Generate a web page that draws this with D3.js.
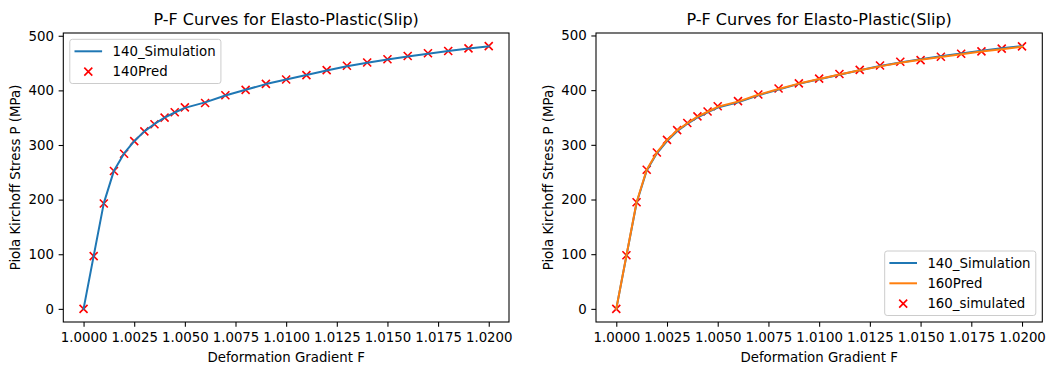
<!DOCTYPE html>
<html>
<head>
<meta charset="utf-8">
<script src="https://cdn.jsdelivr.net/npm/d3@7"></script>
<style>
  html, body { margin: 0; padding: 0; background: #fff; }
  svg { display: block; font-family: "DejaVu Sans", sans-serif; }
</style>
</head>
<body>
<svg id="chart" width="1048" height="367"></svg>
<script>
// Deformation gradient samples
const F = [1.0000, 1.0005, 1.0010, 1.0015, 1.0020, 1.0025, 1.0030, 1.0035, 1.0040, 1.0045,
           1.0050, 1.0060, 1.0070, 1.0080, 1.0090, 1.0100, 1.0110, 1.0120, 1.0130, 1.0140,
           1.0150, 1.0160, 1.0170, 1.0180, 1.0190, 1.0200];

// Piola Kirchhoff stress (MPa)
const sim140  = [0, 97, 193.5, 253, 284.5, 307, 325, 338.5, 350, 359.5,
                 368, 378, 390.5, 401, 411.5, 420, 428, 436.5, 444, 450.5,
                 456.5, 462, 467, 472, 476.5, 480.5];
const pred140 = [0, 96.5, 193, 252.5, 284, 307, 325, 338, 350, 360,
                 369, 377, 391, 401, 412, 420, 428, 437, 445, 451,
                 457, 463, 468, 472, 477, 481];
const pred160 = [0, 97.5, 195, 254.5, 286, 308.5, 326.5, 339.5, 351.5, 360.5,
                 369.5, 379, 391.5, 402, 412, 420.5, 428.5, 436.5, 443.5, 450,
                 455.5, 460.5, 465.5, 470.5, 475, 479.5];
const sim160  = [0, 98, 195, 254.5, 286, 309, 327, 340, 352, 361,
                 370.5, 380, 392, 403, 412.5, 421, 429.5, 437, 445, 452,
                 455, 461, 466.5, 471, 476, 480];

const xTicks = [1.0000, 1.0025, 1.0050, 1.0075, 1.0100, 1.0125, 1.0150, 1.0175, 1.0200];
const yTicks = [0, 100, 200, 300, 400, 500];

const titleText = "P-F Curves for Elasto-Plastic(Slip)";
const xLabel = "Deformation Gradient F";
const yLabel = "Piola Kirchoff Stress P (MPa)";

const BLUE = "#1f77b4", ORANGE = "#ff7f0e", RED = "#ff0000";

const panels = [
  {
    box: { left: 63.3, top: 33, right: 509, bottom: 322 },
    lines: [{ name: "140_Simulation", values: sim140, color: BLUE }],
    scatters: [{ name: "140Pred", values: pred140, color: RED }],
    legend: "upper left"
  },
  {
    box: { left: 596, top: 33, right: 1042.3, bottom: 322 },
    lines: [{ name: "140_Simulation", values: sim140, color: BLUE },
            { name: "160Pred", values: pred160, color: ORANGE }],
    scatters: [{ name: "160_simulated", values: sim160, color: RED }],
    legend: "lower right"
  }
];

const svg = d3.select("#chart");
const FS = 13.33;         // tick / label / legend font size (px)
const TITLE_FS = 16;
const TICK_LEN = 4.67;
const TICK_PAD = 4.67;
const MK = 4;             // half-size of x marker

function xMarker(g, cx, cy, color) {
  g.append("path")
    .attr("d", `M${cx - MK},${cy - MK}L${cx + MK},${cy + MK}M${cx - MK},${cy + MK}L${cx + MK},${cy - MK}`)
    .attr("stroke", color).attr("stroke-width", 1.6).attr("fill", "none");
}

function padded(lo, hi) {
  const m = (hi - lo) * 0.05;
  return [lo - m, hi + m];
}

panels.forEach(p => {
  const b = p.box;
  const allY = p.lines.concat(p.scatters).flatMap(s => s.values);
  const x = d3.scaleLinear().domain(padded(d3.min(F), d3.max(F))).range([b.left, b.right]);
  const y = d3.scaleLinear().domain(padded(d3.min(allY), d3.max(allY))).range([b.bottom, b.top]);

  const g = svg.append("g");

  // clip area for data marks
  const clipId = "clip" + Math.round(b.left);
  svg.append("clipPath").attr("id", clipId)
    .append("rect").attr("x", b.left).attr("y", b.top)
    .attr("width", b.right - b.left).attr("height", b.bottom - b.top);

  const plot = g.append("g").attr("clip-path", `url(#${clipId})`);

  // scatter markers sit beneath the lines
  p.scatters.forEach(s => {
    const sg = plot.append("g");
    F.forEach((f, i) => xMarker(sg, x(f), y(s.values[i]), s.color));
  });

  const line = d3.line().x((d, i) => x(F[i])).y(d => y(d));
  p.lines.forEach(s => {
    plot.append("path").datum(s.values)
      .attr("d", line)
      .attr("fill", "none").attr("stroke", s.color)
      .attr("stroke-width", 2).attr("stroke-linejoin", "round").attr("stroke-linecap", "square");
  });

  // axes
  const xAxis = d3.axisBottom(x).tickValues(xTicks).tickFormat(d3.format(".4f"))
    .tickSizeInner(TICK_LEN).tickSizeOuter(0).tickPadding(TICK_PAD);
  const yAxis = d3.axisLeft(y).tickValues(yTicks).tickFormat(d3.format("d"))
    .tickSizeInner(TICK_LEN).tickSizeOuter(0).tickPadding(TICK_PAD);

  const gx = g.append("g").attr("transform", `translate(0,${b.bottom})`).call(xAxis);
  const gy = g.append("g").attr("transform", `translate(${b.left},0)`).call(yAxis);
  [gx, gy].forEach(a => {
    a.select(".domain").remove();
    a.selectAll("line").attr("stroke", "#000").attr("stroke-width", 1.07);
    a.selectAll("text").attr("fill", "#000")
      .style("font-family", "DejaVu Sans").style("font-size", FS + "px");
  });
  gx.selectAll("text").attr("dy", "0.78em");

  // frame
  g.append("rect").attr("x", b.left).attr("y", b.top)
    .attr("width", b.right - b.left).attr("height", b.bottom - b.top)
    .attr("fill", "none").attr("stroke", "#000").attr("stroke-width", 1.07);

  const cx = (b.left + b.right) / 2;
  const cy = (b.top + b.bottom) / 2;

  // title
  g.append("text").attr("x", cx).attr("y", b.top - 8)
    .attr("text-anchor", "middle").style("font-size", TITLE_FS + "px").attr("fill", "#000")
    .text(titleText);

  // axis labels
  g.append("text").attr("x", cx).attr("y", 362)
    .attr("text-anchor", "middle").style("font-size", FS + "px").attr("fill", "#000")
    .text(xLabel);
  g.append("text")
    .attr("transform", `translate(${b.left - 43.5},${cy}) rotate(-90)`)
    .attr("text-anchor", "middle").style("font-size", FS + "px").attr("fill", "#000")
    .text(yLabel);

  // legend
  const entries = p.lines.map(s => ({ name: s.name, color: s.color, kind: "line" }))
    .concat(p.scatters.map(s => ({ name: s.name, color: s.color, kind: "marker" })));
  const rowH = 20.3;
  const lg = g.append("g");
  const labels = entries.map(e => lg.append("text").style("font-size", FS + "px").attr("fill", "#000").text(e.name));
  const maxW = d3.max(labels, t => t.node().getComputedTextLength());
  const w = 42.7 + maxW + 5.3;
  const h = entries.length * rowH + 3.6;
  const lx = p.legend === "upper left" ? b.left + 6.5 : b.right - 6.5 - w;
  const ly = p.legend === "upper left" ? b.top + 6.3 : b.bottom - 6.5 - h;
  lg.insert("rect", ":first-child")
    .attr("x", lx).attr("y", ly).attr("width", w).attr("height", h)
    .attr("rx", 2.5).attr("ry", 2.5)
    .attr("fill", "rgba(255,255,255,0.8)").attr("stroke", "#cccccc").attr("stroke-width", 1);
  entries.forEach((e, i) => {
    const ry = ly + 12 + i * rowH;
    if (e.kind === "line") {
      lg.append("line").attr("x1", lx + 4.7).attr("x2", lx + 32.3).attr("y1", ry).attr("y2", ry)
        .attr("stroke", e.color).attr("stroke-width", 2);
    } else {
      xMarker(lg, lx + 18.5, ry, e.color);
    }
    labels[i].attr("x", lx + 42.7).attr("y", ry).attr("dy", "0.36em");
  });
});
</script>
</body>
</html>
